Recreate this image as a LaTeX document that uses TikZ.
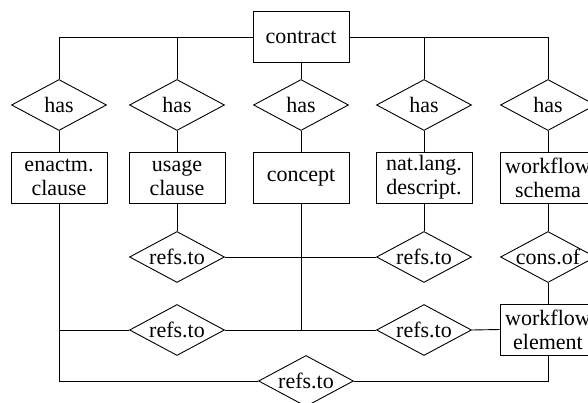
\documentclass[tikz,border=0pt]{standalone}
\usepackage{fontspec}
\setmainfont{Liberation Serif}
\usetikzlibrary{shapes.geometric}
\begin{document}
\begin{tikzpicture}[x=1pt,y=-1pt,
  every node/.style={font=\fontsize{22}{24}\selectfont, inner sep=0pt, align=center},
  entity/.style={draw, line width=0.9pt, minimum width=96pt, minimum height=51pt},
  relation/.style={draw, line width=0.9pt, diamond, aspect=1.86, minimum width=95pt, minimum height=51pt},
  link/.style={line width=0.9pt}]
\useasboundingbox (0,0) rectangle (588,403);
% top entity
\node[entity] (contract) at (301,37) {contract};
% "has" relations
\node[relation] (has1) at (59,105) {has};
\node[relation] (has2) at (177,105) {has};
\node[relation] (has3) at (301,105) {has};
\node[relation] (has4) at (424,105) {has};
\node[relation] (has5) at (548,105) {has};
% second row of entities
\node[entity] (enact) at (59,177.5) {enactm.\\clause};
\node[entity] (usage) at (177,177.5) {usage\\clause};
\node[entity] (concept) at (301,177.5) {concept};
\node[entity] (natlang) at (424,177.5) {nat.lang.\\descript.};
\node[entity] (schema) at (548,177.5) {workflow\\schema};
% references and composition
\node[relation] (ref1) at (177,257) {refs.to};
\node[relation] (ref2) at (424,257) {refs.to};
\node[relation] (cons) at (548,257) {cons.of};
\node[relation] (ref3) at (177,330) {refs.to};
\node[relation] (ref4) at (424,330) {refs.to};
\node[entity] (element) at (548,329.5) {workflow\\element};
\node[relation] (ref5) at (306,381) {refs.to};
\coordinate (junction) at (concept.south |- ref3.east);
% connectors
\draw[link] (contract.west) -| (has1.north);
\draw[link] (contract.west) -| (has2.north);
\draw[link] (contract.south) -- (has3.north);
\draw[link] (contract.east) -| (has4.north);
\draw[link] (contract.east) -| (has5.north);
\draw[link] (has1.south) -- (enact.north);
\draw[link] (has2.south) -- (usage.north);
\draw[link] (has3.south) -- (concept.north);
\draw[link] (has4.south) -- (natlang.north);
\draw[link] (has5.south) -- (schema.north);
\draw[link] (usage.south) -- (ref1.north);
\draw[link] (natlang.south) -- (ref2.north);
\draw[link] (ref1.east) -- (ref2.west);
\draw[link] (schema.south) -- (cons.north);
\draw[link] (cons.south) -- (element.north);
\draw[link] (enact.south) |- (ref3.west);
\draw[link] (enact.south) |- (ref5.west);
\draw[link] (ref3.east) -- (ref4.west);
\draw[link] (concept.south) -- (junction);
\draw[link] (ref4.east) -- (element.west);
\draw[link] (ref5.east) -| (element.south);
\end{tikzpicture}
\end{document}
